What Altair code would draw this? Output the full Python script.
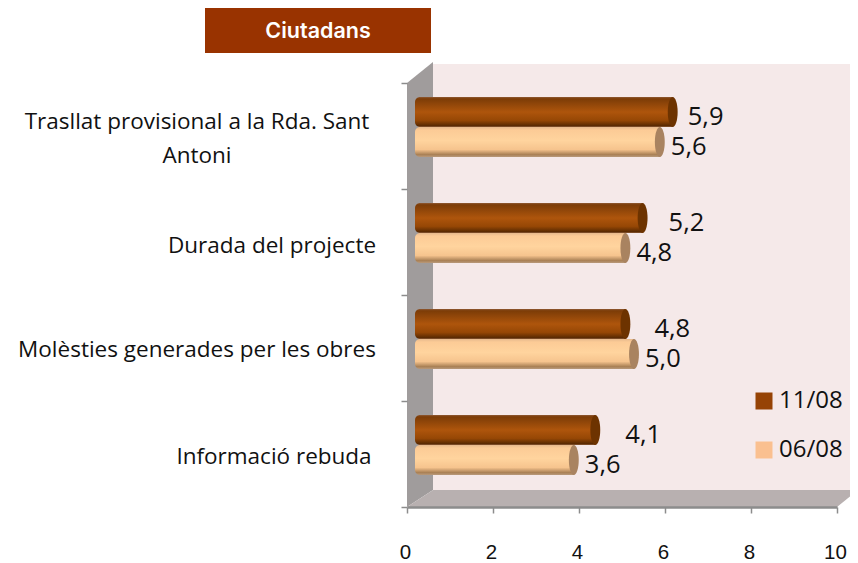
import altair as alt
import pandas as pd

categories = ["Informació rebuda", "Molèsties generades per les obres", "Durada del projecte",
              "Trasllat provisional a la Rda. Sant\nAntoni"]
series_new = [4.1, 4.8, 5.2, 5.9]   # 11/08
series_old = [3.6, 5.0, 4.8, 5.6]   # 06/08
series_names = ["11/08", "06/08"]
x_ticks = [0, 2, 4, 6, 8, 10]
y_ticks = [0, 1, 2, 3, 4]
title_text = "Ciutadans"

# layout (page pixels) converted into data units so everything goes through the scales
X0, PXU = 407, 43
Y0, PYU = 507, 106
FONT = "Open Sans"
def dx(px): return (px - X0) / PXU
def dy(py): return (Y0 - py) / PYU

label_cx = [274, 197, 272, 197]
label_cy = [457, 350, 246, 122]
new_off = [25, 24, 21, 10]
old_off = [6, 6, 6, 6]

rows = []
for i in range(4):
    c = i + 0.5 + 9 / PYU
    h = 30 / PYU
    rows.append(dict(s=series_names[0], v=series_new[i], y1=c, y2=c + h, o=new_off[i]))
    rows.append(dict(s=series_names[1], v=series_old[i], y1=c - h, y2=c, o=old_off[i]))
bars = pd.DataFrame(rows)
bars["z"] = 0
bars["cx"] = bars.v + 12 / PXU
bars["lx"] = bars.v + 17 / PXU + bars.o / PXU
bars["ly"] = (bars.y1 + bars.y2) / 2
bars["txt"] = bars.v.map(lambda v: f"{v:.1f}".replace(".", ","))

x_axis = alt.Axis(values=x_ticks, title=None, grid=False, tickColor="#8c8c8c", tickSize=6, tickWidth=1.5,
                  domainColor="#8c8c8c", domainWidth=2.5, labelFont="Liberation Sans", labelFontSize=20.5,
                  labelFlush=False, labelOffset=-2, labelColor="#111111", labelPadding=29, labelAngle=0, zindex=1)
y_axis = alt.Axis(values=y_ticks, labels=False, title=None, grid=False, tickColor="#8c8c8c",
                  tickSize=6, tickWidth=1.5, domain=False, zindex=1)
X = lambda f: alt.X(f, type="quantitative", scale=alt.Scale(domain=[0, 10], nice=False), axis=x_axis)
Y = lambda f: alt.Y(f, type="quantitative", scale=alt.Scale(domain=[0, 4], nice=False), axis=y_axis)

# walls
back = alt.Chart(pd.DataFrame({"a": [dx(433)], "b": [dx(858)], "c": [dy(490)], "d": [dy(64)]})).mark_rect(
    color="#f5e9e9").encode(x=X("a:Q"), x2="b:Q", y=Y("c:Q"), y2="d:Q")
left = alt.Chart(pd.DataFrame({"x": [0, dx(433)], "t": [dy(83), dy(62)], "b": [dy(507), dy(490)]})).mark_area(
    color="#a09c9c", orient="vertical").encode(x=X("x:Q"), y=Y("t:Q"), y2="b:Q")
floor = alt.Chart(pd.DataFrame({"y": [dy(507), dy(490)], "a": [0, dx(433)], "b": [dx(837), dx(858)]})).mark_area(
    color="#b8b0b0", orient="horizontal").encode(y=Y("y:Q"), x=X("a:Q"), x2="b:Q")

def grad(stops):
    return alt.Gradient(gradient="linear", x1=0, x2=0, y1=0, y2=1,
                        stops=[alt.GradientStop(offset=o, color=c) for o, c in stops])

dark = grad([(0, "#8f5a35"), (0.06, "#7c3c07"), (0.5, "#ae550c"), (0.78, "#964705"), (0.95, "#5c2b02"), (1, "#8a5a38")])
light = grad([(0, "#e6b98d"), (0.1, "#fccb96"), (0.45, "#ffd49e"), (0.75, "#f6c48e"), (0.92, "#a98055"), (1, "#b99a7c")])
ELLIPSE = "M0,-1 A0.33,1 0 1,1 0,1 A0.33,1 0 1,1 0,-1 Z"

def body(name, fill, cap):
    d = bars[bars.s == name]
    b = alt.Chart(d).mark_rect(color=fill, xOffset=8, cornerRadiusTopLeft=5, cornerRadiusBottomLeft=5).encode(
        x=X("z:Q"), x2="cx:Q", y=Y("y1:Q"), y2="y2:Q")
    e = alt.Chart(d).mark_point(shape=ELLIPSE, size=900, filled=True, color=cap, opacity=1).encode(
        x=X("cx:Q"), y=Y("ly:Q"))
    return b + e

# zero-size bars carry the real legend
legend_src = alt.Chart(bars).mark_rect().encode(
    x=X("z:Q"), x2="z:Q", y=Y("y1:Q"), y2="y1:Q",
    color=alt.Color("s:N", scale=alt.Scale(domain=series_names, range=["#964305", "#fac090"]),
                    legend=alt.Legend(title=None, orient="none", legendX=345, legendY=306, symbolType="square",
                                      symbolSize=289, symbolStrokeWidth=0, labelFont=FONT, labelFontSize=24,
                                      labelColor="#111111", rowPadding=25, labelOffset=3)))

values = alt.Chart(bars).mark_text(font=FONT, fontSize=25.5, color="#111111", align="left", baseline="middle", dy=5).encode(
    x=X("lx:Q"), y=Y("ly:Q"), text="txt:N")

cat = pd.DataFrame({"c": categories, "x": [dx(v) for v in label_cx], "y": [dy(v) for v in label_cy]})
cat_labels = alt.Chart(cat).mark_text(font=FONT, fontSize=22.5, color="#111111", align="center", baseline="middle",
                                      lineBreak="\n", lineHeight=34).encode(
    x=X("x:Q"), y=Y("y:Q"), text="c:N")

banner = alt.Chart(pd.DataFrame({"a": [dx(205)], "b": [dx(431)], "c": [dy(53)], "d": [dy(8)]})).mark_rect(
    color="#993300").encode(x=X("a:Q"), x2="b:Q", y=Y("c:Q"), y2="d:Q")
title = alt.Chart(pd.DataFrame({"t": [title_text], "x": [dx(318)], "y": [dy(32)]})).mark_text(
    font="Inter", fontSize=21.5, fontWeight=600, color="white", align="center", baseline="middle").encode(
    x=X("x:Q"), y=Y("y:Q"), text="t:N")

chart = alt.layer(back, left, floor, legend_src, body("06/08", light, "#a98360"), body("11/08", dark, "#6d3300"),
                  values, cat_labels, banner, title).properties(
    width=430, height=424, padding={"left": 399, "top": 75, "right": 13, "bottom": 56},
    autosize=alt.AutoSizeParams(type="none")
).configure_view(stroke=None)

chart.save("out.html", embed_options={"renderer": "svg", "actions": False})
